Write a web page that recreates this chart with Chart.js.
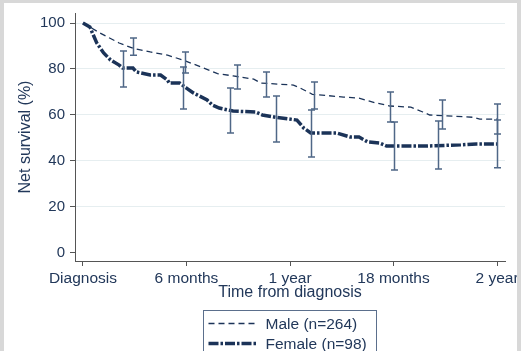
<!DOCTYPE html>
<html>
<head>
<meta charset="utf-8">
<script src="https://cdn.jsdelivr.net/npm/chart.js@4.4.0/dist/chart.umd.min.js"></script>
<style>
html, body { margin: 0; padding: 0; background: #d8d8d8; overflow: hidden; }
#frame { position: absolute; left: 4px; top: 3px; width: 513px; height: 348px; background: #fff; overflow: hidden; }
#chart { position: absolute; left: -4px; top: -3px; }
</style>
</head>
<body>
<div id="frame"><canvas id="chart" width="521" height="370"></canvas></div>
<script>
// Net survival by sex, months since diagnosis
const maleMonths   = [0, 1.0, 2.1, 2.9, 3.9, 4.9, 5.8, 6.8, 7.8, 8.7, 9.9, 10.3, 12.2, 12.6, 13.3, 15.1, 16.0, 17.0, 17.8, 19.0, 19.7, 20.1, 21.1, 22.6, 23.0, 24];
const maleSurvival = [100, 95.6, 91.3, 89, 87.4, 86, 83.9, 81, 78, 77, 75.6, 73.9, 73, 71.7, 69, 67.8, 67.3, 65.2, 63.9, 63.4, 61.3, 60, 59.6, 59, 58.2, 58.2];

const femaleMonths   = [0, 0.4, 0.8, 1.2, 1.6, 2.1, 2.3, 2.9, 3.1, 3.9, 4.5, 4.9, 5.0, 5.6, 6.0, 6.4, 7.2, 7.5, 7.9, 8.7, 10.0, 10.4, 11.2, 12.4, 12.8, 13.2, 14.7, 15.5, 16.0, 16.5, 17.2, 17.6, 19.9, 21.9, 22.8, 24];
const femaleSurvival = [100, 98.3, 91.3, 87, 83.9, 81.7, 80.4, 80.4, 78.7, 77.4, 77.4, 75.2, 73.9, 73.9, 71.7, 69.6, 66.5, 64.3, 63, 61.7, 61.3, 60, 59, 57.8, 54.3, 52.2, 52.2, 50.4, 50.4, 48.3, 47.8, 46.5, 46.5, 47, 47.4, 47.4];

// confidence intervals
const maleCiMonths = [2.9, 5.9, 8.9, 10.6, 13.4, 17.8, 20.8, 24];
const maleCiUpper  = [93.5, 87.4, 81.7, 78.7, 74.3, 70, 66.5, 64.8];
const maleCiLower  = [86, 78.3, 71.3, 67.8, 62.6, 57, 53.9, 51.7];

const femaleCiMonths = [2.3, 5.8, 8.5, 11.2, 13.2, 18, 20.6, 24];
const femaleCiUpper  = [87.8, 80.9, 71.7, 68.3, 62.2, 57, 57.4, 57.8];
const femaleCiLower  = [72.2, 62.6, 52.2, 48.3, 41.7, 36.1, 36.5, 37];

const xTickValues = [0, 6, 12, 18, 24];
const xTickLabels = ['Diagnosis', '6 months', '1 year', '18 months', '2 year'];
const yTickValues = [0, 20, 40, 60, 80, 100];

const seriesNames = ['Male (n=264)', 'Female (n=98)'];

const navy = '#1b3358';
const textColor = '#22385a';
const ciColor = '#4f6787';
const fontFamily = "'Liberation Sans', Arial, sans-serif";

function toPoints(xs, ys) {
    return xs.map((x, i) => ({ x: x, y: ys[i] }));
}

// error bars drawn through the chart scales
const errorBars = {
    id: 'errorBars',
    afterDatasetsDraw(chart) {
        const ctx = chart.ctx;
        const xs = chart.scales.x, ys = chart.scales.y;
        const sets = [
            [maleCiMonths, maleCiUpper, maleCiLower],
            [femaleCiMonths, femaleCiUpper, femaleCiLower]
        ];
        ctx.save();
        ctx.strokeStyle = ciColor;
        ctx.lineWidth = 1.5;
        ctx.setLineDash([]);
        sets.forEach(([m, hi, lo]) => {
            m.forEach((v, i) => {
                const px = Math.round(xs.getPixelForValue(v)) + 0.5;
                const top = ys.getPixelForValue(hi[i]);
                const bot = ys.getPixelForValue(lo[i]);
                ctx.beginPath();
                ctx.moveTo(px, top); ctx.lineTo(px, bot);
                ctx.moveTo(px - 3.5, top); ctx.lineTo(px + 3.5, top);
                ctx.moveTo(px - 3.5, bot); ctx.lineTo(px + 3.5, bot);
                ctx.stroke();
            });
        });
        ctx.restore();
    }
};

// boxed legend under the axis title
const boxLegend = {
    id: 'boxLegend',
    afterDraw(chart) {
        const ctx = chart.ctx;
        const area = chart.chartArea;
        const cx = (area.left + area.right) / 2;
        const left = Math.round(cx - 87) + 0.5;
        const top = area.bottom + 49.5;
        ctx.save();
        ctx.strokeStyle = '#5b6f8c';
        ctx.lineWidth = 1;
        ctx.strokeRect(left, top, 173, 60);
        chart.data.datasets.forEach((ds, i) => {
            const y = top + 13 + i * 20;
            ctx.beginPath();
            ctx.strokeStyle = ds.borderColor;
            ctx.lineWidth = ds.borderWidth;
            ctx.setLineDash(ds.borderDash || []);
            ctx.moveTo(left + 5, y);
            ctx.lineTo(left + 54, y);
            ctx.stroke();
            ctx.setLineDash([]);
            ctx.fillStyle = textColor;
            ctx.font = '15.5px ' + fontFamily;
            ctx.textBaseline = 'alphabetic';
            ctx.fillText(ds.label, left + 62, y + 5.5);
        });
        ctx.restore();
    }
};

new Chart(document.getElementById('chart'), {
    type: 'line',
    data: {
        datasets: [
            {
                label: seriesNames[0],
                data: toPoints(maleMonths, maleSurvival),
                borderColor: navy,
                borderWidth: 1.3,
                borderDash: [6, 4],
                pointRadius: 0,
                tension: 0,
                fill: false
            },
            {
                label: seriesNames[1],
                data: toPoints(femaleMonths, femaleSurvival),
                borderColor: navy,
                borderWidth: 3.5,
                borderDash: [10, 2, 2.5, 2],
                pointRadius: 0,
                tension: 0,
                fill: false
            }
        ]
    },
    options: {
        responsive: false,
        animation: false,
        devicePixelRatio: 1,
        layout: { padding: { left: 0, top: 13, right: 16, bottom: 67.7 } },
        plugins: {
            legend: { display: false },
            tooltip: { enabled: false }
        },
        scales: {
            x: {
                type: 'linear',
                min: -0.46,
                max: 24.46,
                afterBuildTicks: function(scale) {
                    scale.ticks = xTickValues.map(v => ({ value: v }));
                },
                afterFit: function(scale) {
                    scale.height = 41.3;
                    scale.paddingLeft = 0;
                    scale.paddingRight = 0;
                },
                ticks: {
                    autoSkip: false,
                    maxRotation: 0,
                    padding: 3.5,
                    color: textColor,
                    font: { family: fontFamily, size: 15.5 },
                    callback: function(value) {
                        const i = xTickValues.indexOf(value);
                        return i >= 0 ? xTickLabels[i] : '';
                    }
                },
                grid: {
                    drawOnChartArea: false,
                    drawTicks: true,
                    tickLength: 5,
                    tickColor: '#555'
                },
                border: { color: '#555', width: 1 },
                title: {
                    display: true,
                    text: 'Time from diagnosis',
                    color: textColor,
                    font: { family: fontFamily, size: 16 },
                    padding: { top: 0, bottom: 0 }
                }
            },
            y: {
                min: -3.5,
                max: 104.35,
                afterBuildTicks: function(scale) {
                    scale.ticks = yTickValues.map(v => ({ value: v }));
                },
                afterFit: function(scale) {
                    scale.width = 75;
                    scale.paddingTop = 0;
                    scale.paddingBottom = 0;
                },
                ticks: {
                    padding: 5,
                    color: textColor,
                    font: { family: fontFamily, size: 15 }
                },
                grid: {
                    color: ctx => ctx.tick && ctx.tick.value === 0 ? 'rgba(0,0,0,0)' : '#e6eef0',
                    lineWidth: 1,
                    tickLength: 5,
                    tickColor: '#555'
                },
                border: { color: '#555', width: 1 },
                title: {
                    display: true,
                    text: 'Net survival (%)',
                    color: textColor,
                    font: { family: fontFamily, size: 16 },
                    padding: { top: 16.4, bottom: 0 }
                }
            }
        }
    },
    plugins: [errorBars, boxLegend]
});
</script>
</body>
</html>
